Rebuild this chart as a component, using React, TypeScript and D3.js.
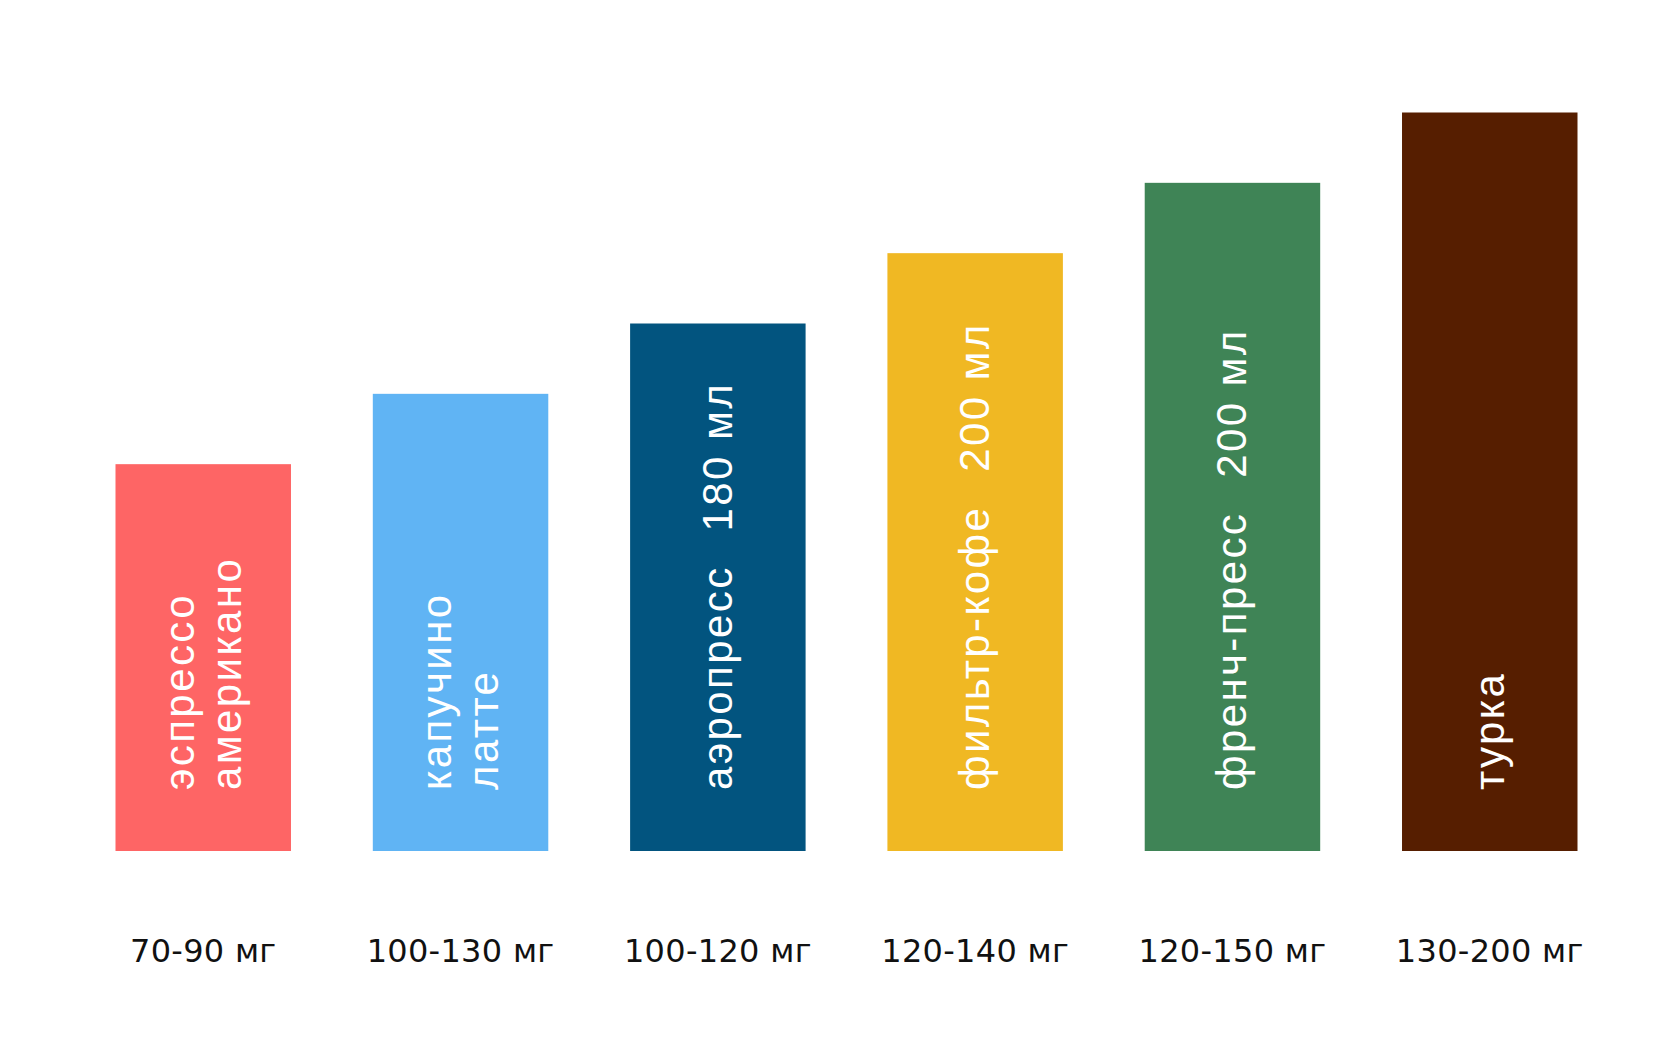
import React from "react";
import * as d3 from "d3";

// Brewing methods (lines of the rotated label inside each bar)
const methods: string[][] = [
  ["эспрессо", "американо"],
  ["капучино", "латте"],
  ["аэропресс"],
  ["фильтр-кофе"],
  ["френч-пресс"],
  ["турка"],
];
// Serving volume written after the method name
const volumes: string[] = ["", "", "180 мл", "200 мл", "200 мл", ""];
// Caffeine range shown under each bar
const caffeine: string[] = [
  "70-90 мг",
  "100-130 мг",
  "100-120 мг",
  "120-140 мг",
  "120-150 мг",
  "130-200 мг",
];
// Relative bar heights (rank-like level)
const barLevel: number[] = [5.5, 6.5, 7.5, 8.5, 9.5, 10.5];
const colors: string[] = [
  "#FE6565",
  "#60B4F4",
  "#02547F",
  "#F0B823",
  "#3F8456",
  "#561E00",
];

const W = 1680;
const H = 1053;

export default function App() {
  const idx = d3.range(methods.length).map(String);
  const x = d3
    .scaleBand<string>()
    .domain(idx)
    .range([115.5, 1577.5])
    .paddingInner(0.318)
    .paddingOuter(0);
  const baseline = 851;
  const y = d3.scaleLinear().domain([0, 10.5]).range([baseline, 112.5]);
  const bw = x.bandwidth();

  const fontInside = "'Liberation Sans', Arial, sans-serif";
  const fontBottom = "'DejaVu Sans', sans-serif";
  const fs = 42;
  const lineGap = 47;
  const textStart = 790;

  return (
    <svg
      width={W}
      height={H}
      viewBox={`0 0 ${W} ${H}`}
      style={{ position: "absolute", left: 0, top: 0, background: "#fff" }}
    >
      <rect x={0} y={0} width={W} height={H} fill="#fff" />
      {idx.map((k, i) => {
        const x0 = x(k) as number;
        const cx = x0 + bw / 2;
        const lines = methods[i];
        const n = lines.length;
        return (
          <g key={k}>
            <rect
              x={x0}
              y={y(barLevel[i])}
              width={bw}
              height={baseline - y(barLevel[i])}
              fill={colors[i]}
            />
            <g transform={`translate(${cx},${textStart}) rotate(-90)`}>
              {lines.map((ln, j) => (
                <text
                  key={j}
                  x={0}
                  y={14 + (j - (n - 1) / 2) * lineGap}
                  fill="#fff"
                  fontFamily={fontInside}
                  fontSize={fs}
                  letterSpacing={2.4}
                >
                  <tspan>{ln}</tspan>
                  {j === 0 && volumes[i] ? (
                    <tspan dx={34}>{volumes[i]}</tspan>
                  ) : null}
                </text>
              ))}
            </g>
            <text
              x={cx}
              y={962}
              textAnchor="middle"
              fill="#111"
              fontFamily={fontBottom}
              fontSize={32}
              letterSpacing={0.3}
            >
              {caffeine[i]}
            </text>
          </g>
        );
      })}
    </svg>
  );
}
